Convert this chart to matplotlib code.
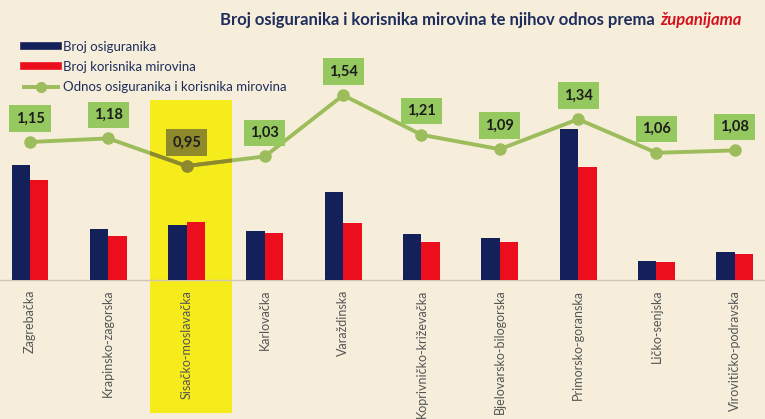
import matplotlib.pyplot as plt
from matplotlib.patches import Rectangle
from matplotlib.lines import Line2D
import matplotlib.transforms as mtransforms

plt.rcParams["font.family"] = ["Lato", "DejaVu Sans"]

# data (bar heights in relative units)
zupanije = ["Zagrebačka", "Krapinsko-zagorska", "Sisačko-moslavačka", "Karlovačka",
            "Varaždinska", "Koprivničko-križevačka", "Bjelovarsko-bilogorska",
            "Primorsko-goranska", "Ličko-senjska", "Virovitičko-podravska"]
osiguranici = [115, 51, 55, 49, 88, 46, 42, 151, 19, 28]
korisnici = [100, 44, 58, 47, 57, 38, 38, 113, 18, 26]
odnos = [1.15, 1.18, 0.95, 1.03, 1.54, 1.21, 1.09, 1.34, 1.06, 1.08]
odnos_labels = ["1,15", "1,18", "0,95", "1,03", "1,54", "1,21", "1,09", "1,34", "1,06", "1,08"]
istaknuto = 2  # Sisačko-moslavačka

navy = "#14205a"
red = "#ec0e1c"
green = "#9dbd5c"
box_green = "#95c85e"
olive = "#8e8a2c"
bg = "#f6eedb"

fig = plt.figure(figsize=(7.65, 4.19), dpi=100, facecolor=bg)
ax = fig.add_axes([0, 1 - 280 / 419, 1, 280 / 419])
ax.set_facecolor("none")

x = list(range(len(zupanije)))
w = 0.236
ax.bar([i - w / 2 for i in x], osiguranici, width=w, color=navy, zorder=3)
ax.bar([i + w / 2 for i in x], korisnici, width=w, color=red, zorder=3)

ax.set_xlim(-0.383, 9.387)
ax.set_ylim(0, 280)
ax.set_xticks(x)
ax.set_xticklabels(zupanije, rotation=90, va="top", ha="center",
                   fontsize=9, color="#555555")
ax.tick_params(axis="x", length=0, pad=7)
ax.set_yticks([])
for s in ["top", "left", "right"]:
    ax.spines[s].set_visible(False)
ax.spines["bottom"].set_color("#cfc7b6")
ax.spines["bottom"].set_linewidth(1)

# yellow highlight behind the Sisak group
trans = mtransforms.blended_transform_factory(ax.transData, fig.transFigure)
ax.add_patch(Rectangle((1.53, 0.0143), 1.05, 0.747, transform=trans,
                       facecolor="#f6ec1c", edgecolor="none", zorder=1, clip_on=False))

ax2 = ax.twinx()
ax2.set_ylim(0, 280 / 120)
ax2.set_yticks([])
for s in ax2.spines.values():
    s.set_visible(False)
ax2.plot(x, odnos, color=green, lw=2.8, marker="o", ms=8, zorder=4)

# darker copy of the line inside the highlight
clip = Rectangle((1.53, 0.0143), 1.05, 0.747, transform=trans, facecolor="none")
dark, = ax2.plot(x, odnos, color=olive, lw=2.8, marker="o", ms=8, zorder=5)
dark.set_clip_path(clip)

for i, (v, t) in enumerate(zip(odnos, odnos_labels)):
    fc = olive if i == istaknuto else box_green
    ax2.annotate(t, (i, v), xytext=(0, 17), textcoords="offset points",
                 ha="center", va="center", fontsize=10.5, fontweight="bold",
                 color="#1c1c1c", zorder=6,
                 bbox=dict(boxstyle="square,pad=0.42", fc=fc, ec="none"))

# title: navy part followed by red italic word
t1 = fig.text(0.288, 0.952, "Broj osiguranika i korisnika mirovina te njihov odnos prema",
              fontsize=12, fontweight="bold", color="#1e2d5c", ha="left", va="center")
fig.canvas.draw()
bb = t1.get_window_extent().transformed(fig.transFigure.inverted())
fig.text(bb.x1 + 0.007, 0.952, "županijama", fontsize=12, fontweight="bold",
         style="italic", color="#d4111c", ha="left", va="center")

handles = [Line2D([], [], color=navy, lw=5.5),
           Line2D([], [], color=red, lw=5.5),
           Line2D([], [], color=green, lw=2.8, marker="o", ms=7)]
labels = ["Broj osiguranika", "Broj korisnika mirovina",
          "Odnos osiguranika i korisnika mirovina"]
fig.legend(handles, labels, loc="upper left", bbox_to_anchor=(0.024, 0.915),
           frameon=False, fontsize=9.5, handlelength=2.6, handletextpad=0.35,
           labelspacing=0.62, labelcolor="#1e2d5c", borderaxespad=0)

fig.savefig("out.png", dpi=100, facecolor=bg)
